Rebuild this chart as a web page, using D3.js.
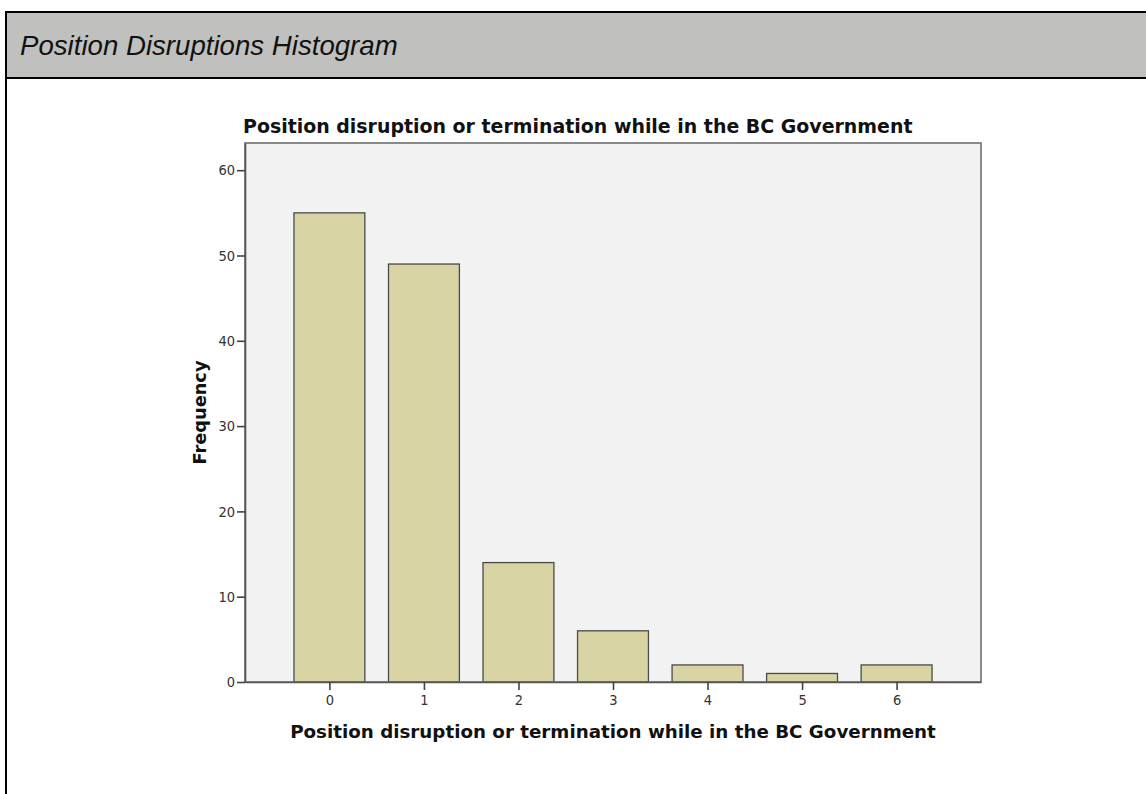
<!DOCTYPE html>
<html><head><meta charset="utf-8">
<script src="https://cdn.jsdelivr.net/npm/d3@7"></script>
<style>html,body{margin:0;padding:0;background:#fff;overflow:hidden}</style>
</head><body>
<svg id="chart" width="1146" height="794"></svg>
<script>
const categories = [0, 1, 2, 3, 4, 5, 6];
const frequencies = [55, 49, 14, 6, 2, 1, 2];
const yTicks = [0, 10, 20, 30, 40, 50, 60];
const pageTitle = "Position Disruptions Histogram";
const chartTitle = "Position disruption or termination while in the BC Government";
const xTitle = "Position disruption or termination while in the BC Government";
const yTitle = "Frequency";

const svg = d3.select("#chart");

// outer frame + header band
svg.append("rect").attr("x", 6).attr("y", 12).attr("width", 1160).attr("height", 820)
  .attr("fill", "#fff").attr("stroke", "#000").attr("stroke-width", 2);
svg.append("rect").attr("x", 6).attr("y", 12).attr("width", 1160).attr("height", 66)
  .attr("fill", "#c0c1bf").attr("stroke", "#000").attr("stroke-width", 2);

function fit(sel, w) {
  const n = sel.node(); const l = n.getComputedTextLength();
  const fs = parseFloat(sel.attr("font-size"));
  sel.attr("font-size", fs * w / l);
}

const pt = svg.append("text").attr("x", 20).attr("y", 55)
  .attr("font-family", "Liberation Sans, Arial, sans-serif").attr("font-style", "italic")
  .attr("font-size", 25).attr("fill", "#111").text(pageTitle);
fit(pt, 378);

const m = {left: 245, right: 981, top: 143, bottom: 682};
const x = d3.scaleLinear().domain([-0.893, 6.893]).range([m.left, m.right]);
const y = d3.scaleLinear().domain([0, (m.bottom - m.top) / 8.53]).range([m.bottom, m.top]);
const barW = x(0.375) - x(0);

svg.append("rect").attr("x", m.left).attr("y", m.top).attr("width", m.right - m.left)
  .attr("height", m.bottom - m.top).attr("fill", "#f2f2f2");

svg.selectAll("rect.bar").data(categories).join("rect").attr("class", "bar")
  .attr("x", d => x(d) - barW).attr("width", 2 * barW)
  .attr("y", (d, i) => y(frequencies[i])).attr("height", (d, i) => y(0) - y(frequencies[i]))
  .attr("fill", "#d9d4a3").attr("stroke", "#4a4a4a").attr("stroke-width", 1.3);

svg.append("rect").attr("x", m.left).attr("y", m.top).attr("width", m.right - m.left)
  .attr("height", m.bottom - m.top).attr("fill", "none").attr("stroke", "#6e6e6e").attr("stroke-width", 1.6);

const yAxis = svg.append("g").attr("transform", `translate(${m.left},0)`)
  .call(d3.axisLeft(y).tickValues(yTicks).tickSize(8).tickSizeOuter(0).tickPadding(2));
const xAxis = svg.append("g").attr("transform", `translate(0,${m.bottom})`)
  .call(d3.axisBottom(x).tickValues(categories).tickSize(8).tickSizeOuter(0).tickPadding(5).tickFormat(d3.format("d")));
[yAxis, xAxis].forEach(a => {
  a.attr("font-size", null);
  a.select(".domain").attr("stroke", "#555").attr("stroke-width", 1.6);
  a.selectAll(".tick line").attr("stroke", "#444").attr("stroke-width", 1.6);
  a.selectAll("text").attr("font-family", "DejaVu Sans Condensed, DejaVu Sans, sans-serif")
    .attr("font-size", 14.5).attr("fill", "#333");
});

const ct = svg.append("text").attr("x", 243).attr("y", 133)
  .attr("font-family", "DejaVu Sans, sans-serif").attr("font-weight", "bold")
  .attr("font-size", 17).attr("fill", "#111").text(chartTitle);
fit(ct, 670);

const xt = svg.append("text").attr("x", (m.left + m.right) / 2).attr("y", 738)
  .attr("text-anchor", "middle")
  .attr("font-family", "DejaVu Sans, sans-serif").attr("font-weight", "bold")
  .attr("font-size", 16).attr("fill", "#111").text(xTitle);
fit(xt, 646);

const yt = svg.append("text").attr("transform", `translate(206,${(m.top + m.bottom) / 2}) rotate(-90)`)
  .attr("text-anchor", "middle")
  .attr("font-family", "DejaVu Sans, sans-serif").attr("font-weight", "bold")
  .attr("font-size", 16).attr("fill", "#111").text(yTitle);
fit(yt, 104);
</script>
</body></html>
